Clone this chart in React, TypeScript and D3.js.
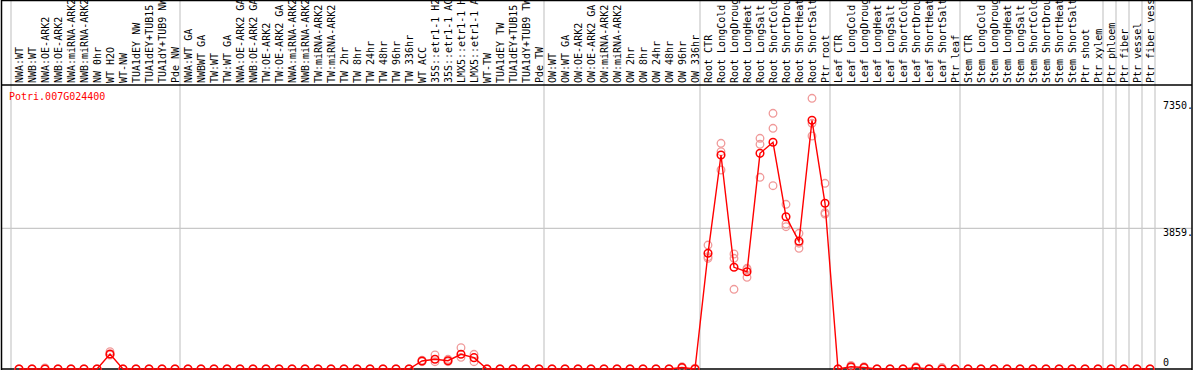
import React from 'react';
import * as d3 from 'd3';

const geneId = 'Potri.007G024400';

const categories = [
  'NWA:WT', 'NWB:WT', 'NWA:OE-ARK2', 'NWB:OE-ARK2', 'NWA:miRNA-ARK2', 'NWB:miRNA-ARK2', 'NW 0hr', 'WT H2O', 'WT-NW',
  'TUA1dEY NW', 'TUA1dEY+TUB15 NW', 'TUA1dY+TUB9 NW', 'Pde NW',
  'NWA:WT GA', 'NWBWT GA', 'TW:WT', 'TW:WT GA', 'NWA:OE-ARK2 GA', 'NWB:OE-ARK2 GA', 'TW:OE-ARK2', 'TW:OE-ARK2 GA',
  'NWA:miRNA-ARK2 GA', 'NWB:miRNA-ARK2 GA', 'TW:miRNA-ARK2', 'TW:miRNA-ARK2 GA',
  'TW 2hr', 'TW 8hr', 'TW 24hr', 'TW 48hr', 'TW 96hr', 'TW 336hr', 'WT ACC',
  '35S::etr1-1 H2O', '35S::etr1-1 ACC', 'LMX5::etr1-1 H2O', 'LMX5::etr1-1 ACC', 'WT-TW',
  'TUA1dEY TW', 'TUA1dEY+TUB15 TW', 'TUA1dY+TUB9 TW', 'Pde TW',
  'OW:WT', 'OW:WT GA', 'OW:OE-ARK2', 'OW:OE-ARK2 GA', 'OW:miRNA-ARK2', 'OW:miRNA-ARK2 GA',
  'OW 2hr', 'OW 8hr', 'OW 24hr', 'OW 48hr', 'OW 96hr', 'OW 336hr',
  'Root CTR', 'Root LongCold', 'Root LongDrought', 'Root LongHeat', 'Root LongSalt',
  'Root ShortCold', 'Root ShortDrought', 'Root ShortHeat', 'Root ShortSalt', 'Ptr root',
  'Leaf CTR', 'Leaf LongCold', 'Leaf LongDrought', 'Leaf LongHeat', 'Leaf LongSalt',
  'Leaf ShortCold', 'Leaf ShortDrought', 'Leaf ShortHeat', 'Leaf ShortSalt', 'Ptr leaf',
  'Stem CTR', 'Stem LongCold', 'Stem LongDrought', 'Stem LongHeat', 'Stem LongSalt',
  'Stem ShortCold', 'Stem ShortDrought', 'Stem ShortHeat', 'Stem ShortSalt', 'Ptr shoot', 'Ptr xylem',
  'Ptr phloem', 'Ptr fiber', 'Ptr vessel', 'Ptr fiber vessel',
];

const groupSizes = [13, 28, 12, 10, 10, 11, 1, 1, 1, 1];

const means = [
  0, 0, 0, 0, 0, 0, 0, 411, 0, 0, 0, 0, 0,
  0, 0, 0, 0, 0, 0, 0, 0, 0, 0, 0, 0, 0, 0, 0, 0, 0, 0,
  219, 266, 228, 403, 311, 0, 0, 0, 0, 0,
  0, 0, 0, 0, 0, 0, 0, 0, 0, 0, 40, 0,
  3173, 5869, 2789, 2669, 5915, 6218, 4177, 3502, 6821, 4545,
  0, 60, 40, 0, 0, 0, 35, 0, 0, 0,
  0, 0, 0, 0, 0, 0, 0, 0, 0, 0, 0,
  0, 0, 0, 0,
];

const replicates = [
  [0, 0], [0, 0], [0, 30], [0, 0], [0, 0], [0, 0], [0, 0], [475, 384, 400], [0, 0], [0, 0], [0, 0], [0, 0], [0, 0],
  [0, 0], [0, 0], [0, 0], [0, 0], [0, 0], [0, 0], [0, 0], [0, 0], [0, 0], [0, 0], [0, 0], [0, 0],
  [0, 0], [0, 0], [0, 0], [0, 0], [0, 0], [0, 0],
  [200, 240], [384, 200], [266, 200], [585, 320], [403, 200], [0, 0],
  [0, 0], [0, 0], [0, 0], [0, 0],
  [0, 0], [0, 0], [0, 0], [0, 0], [0, 0], [0, 0], [0, 0], [0, 0], [0, 0], [0, 0], [60, 20], [0, 20],
  [3400, 3036, 3080], [6190, 5960, 5458], [3154, 3036, 2186], [2762, 2515, 2730],
  [6327, 6163, 5258], [7013, 6602, 5028], [4517, 3977, 3903], [3722, 3310, 3450],
  [7425, 6739, 6391], [5093, 4287, 4250],
  [0, 0], [100, 40], [60, 20], [0, 0], [0, 0], [0, 0], [60, 20], [0, 0], [40, 0], [0, 0],
  [0, 0], [0, 0], [0, 0], [0, 0], [0, 0], [0, 0], [0, 0], [0, 0], [0, 0], [0, 0], [0, 0],
  [0, 0], [0, 0], [0, 0], [0, 0],
];

const tickValues = [0, 3859, 7350];
const tickLabels = ['0', '3859.', '7350.'];

const W = 1194;
const H = 370;
const FONT = '"DejaVu Sans Mono", monospace';

export default function App() {
  const n = categories.length;
  const x = d3.scaleLinear().domain([0, n]).range([11, 1155]);
  const y = d3.scaleLinear().domain([0, 3859]).range([369, 228.3]);
  const cx = (i: number) => x(i) + 8;

  const boundaries: number[] = [0];
  groupSizes.reduce((acc, s) => {
    boundaries.push(acc + s);
    return acc + s;
  }, 0);

  const line = d3
    .line<number>()
    .x((_, i) => cx(i))
    .y((d) => y(d));

  return (
    <svg
      width={W}
      height={H}
      style={{ position: 'absolute', left: 0, top: 0, background: '#fff' }}
      fontFamily={FONT}
    >
      <rect x={0} y={0} width={W} height={H} fill="#fff" />
      {/* group separators */}
      {boundaries.map((b, k) => (
        <line key={'sep' + k} x1={x(b)} x2={x(b)} y1={0} y2={H} stroke="#c8c8c8" strokeWidth={1.2} />
      ))}
      {/* horizontal grid at middle tick */}
      <line x1={1} x2={1192} y1={y(tickValues[1])} y2={y(tickValues[1])} stroke="#c8c8c8" strokeWidth={1.2} />
      {/* frame */}
      <line x1={1} x2={1192} y1={0.5} y2={0.5} stroke="#000" strokeWidth={1.5} />
      <line x1={1} x2={1192} y1={85} y2={85} stroke="#000" strokeWidth={1.5} />
      <line x1={1} x2={1192} y1={369} y2={369} stroke="#000" strokeWidth={1.5} />
      <line x1={1.5} x2={1.5} y1={0} y2={H} stroke="#000" strokeWidth={1.5} />
      <line x1={1192} x2={1192} y1={0} y2={H} stroke="#000" strokeWidth={1.5} />
      {/* category labels */}
      {categories.map((c, i) => (
        <text
          key={'lab' + i}
          transform={`translate(${x(i) + 11.7},83) rotate(-90)`}
          fontSize={10}
          fill="#000"
        >
          {c}
        </text>
      ))}
      {/* y labels */}
      {tickValues.map((v, k) => (
        <text key={'yt' + k} x={1163} y={Math.min(y(v) + 8, 366)} fontSize={10} fill="#000">
          {tickLabels[k]}
        </text>
      ))}
      <text x={9} y={100} fontSize={10} fill="#ff0000">
        {geneId}
      </text>
      {/* replicate points */}
      {replicates.map((reps, i) =>
        reps.map((r, j) => (
          <circle
            key={`r${i}-${j}`}
            cx={cx(i)}
            cy={y(r)}
            r={3.8}
            fill="none"
            stroke="#f09a9a"
            strokeWidth={1.3}
          />
        ))
      )}
      {/* mean line */}
      <path d={line(means) || ''} fill="none" stroke="#ff0000" strokeWidth={1.4} />
      {means.map((m, i) => (
        <circle key={'m' + i} cx={cx(i)} cy={y(m)} r={3.8} fill="none" stroke="#ff0000" strokeWidth={1.5} />
      ))}
    </svg>
  );
}
